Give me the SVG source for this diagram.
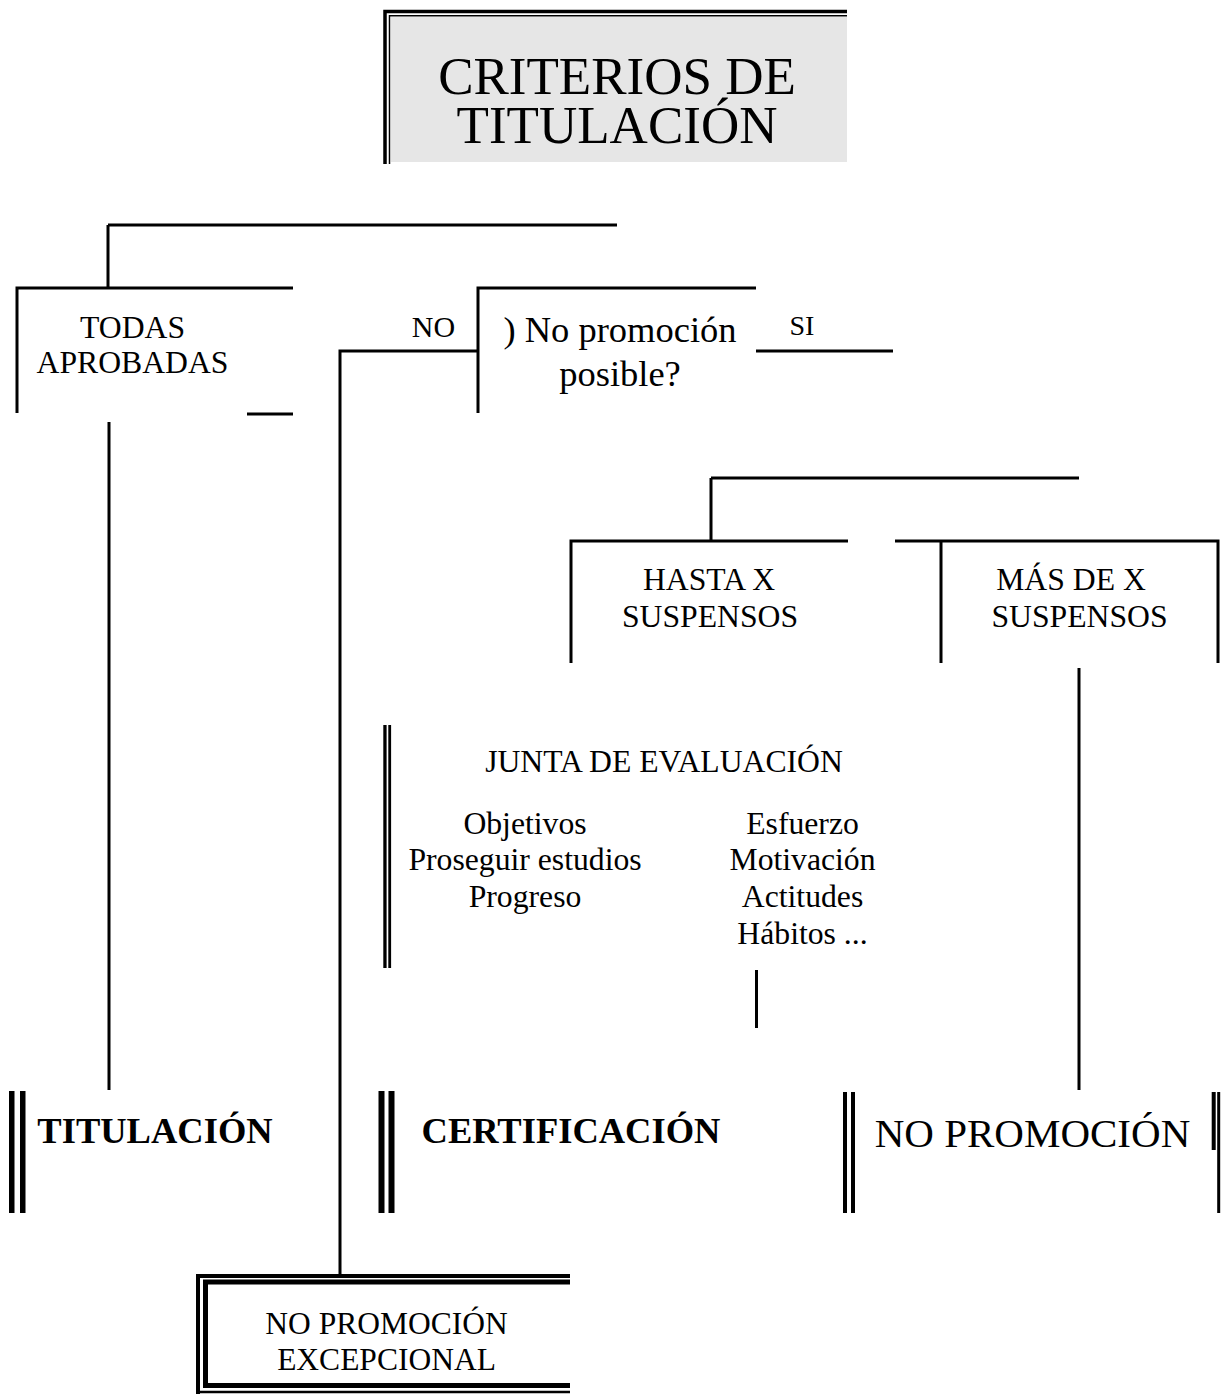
<svg xmlns="http://www.w3.org/2000/svg" width="1226" height="1394" viewBox="0 0 1226 1394">
<style>
.t{font-family:"Liberation Serif","Times New Roman",serif;fill:#000;text-anchor:middle}
.m{font-size:31.7px}
.b{font-size:36.5px;font-weight:bold}
.ln{stroke:#000;stroke-width:3;fill:none}
.bar{fill:#000}
</style>
<rect width="1226" height="1394" fill="#fff"/>
<g id="title">
<rect x="391" y="17" width="456" height="145" fill="#e6e6e6"/>
<path d="M385,164 V11.5 H847" stroke="#000" stroke-width="3.5" fill="none"/>
<path d="M389.5,164 V15.7 H847" stroke="#000" stroke-width="1.5" fill="none"/>
<text class="t" x="617" y="94" font-size="53">CRITERIOS DE</text>
<text class="t" x="617" y="143" font-size="53">TITULACIÓN</text>
</g>
<g id="connectors" class="ln">
<path d="M108,225 H617 M108,225 V288"/>
<path d="M109,422 V1090"/>
<path d="M478,351 H340 V1274"/>
<path d="M756,351 H893"/>
<path d="M711,478 H1079 M711,478 V541"/>
<path d="M1079,668 V1090"/>
<path d="M756.5,970 V1028"/>
</g>
<g id="todas" class="ln">
<path d="M293,288 H17 V413"/>
<path d="M247,414 H293"/>
<text class="t m" x="132.5" y="338" stroke="none">TODAS</text>
<text class="t m" x="132.5" y="373" stroke="none">APROBADAS</text>
</g>
<g id="no-label">
<text class="t" x="433.5" y="337" font-size="30">NO</text>
</g>
<g id="si-label">
<text class="t" x="802" y="335" font-size="28">SI</text>
</g>
<g id="no-promocion-posible" class="ln">
<path d="M756,288 H478 V413"/>
<text class="t" x="620" y="342" font-size="36.5" stroke="none">) No promoción</text>
<text class="t" x="620" y="386" font-size="36.5" stroke="none">posible?</text>
</g>
<g id="hasta" class="ln">
<path d="M848,541 H571 V663"/>
<text class="t m" x="709" y="590" stroke="none">HASTA X</text>
<text class="t m" x="710" y="627" stroke="none">SUSPENSOS</text>
</g>
<g id="mas" class="ln">
<path d="M895,541 H1218 V663 M941,541 V663"/>
<text class="t m" x="1071" y="590" stroke="none">MÁS DE X</text>
<text class="t m" x="1079.5" y="627" stroke="none">SUSPENSOS</text>
</g>
<g id="junta">
<rect class="bar" x="383.3" y="725" width="3.3" height="243"/>
<rect class="bar" x="388.3" y="725" width="2.8" height="243"/>
<text class="t m" x="664" y="772">JUNTA DE EVALUACIÓN</text>
<text class="t m" x="525" y="834">Objetivos</text>
<text class="t m" x="525" y="870">Proseguir estudios</text>
<text class="t m" x="525" y="907">Progreso</text>
<text class="t m" x="802.5" y="834">Esfuerzo</text>
<text class="t m" x="802.5" y="870">Motivación</text>
<text class="t m" x="802.5" y="907">Actitudes</text>
<text class="t m" x="802.5" y="944">Hábitos ...</text>
</g>
<g id="titulacion">
<rect class="bar" x="9" y="1091" width="5.5" height="122"/>
<rect class="bar" x="20" y="1091" width="5.5" height="122"/>
<text class="t b" x="155" y="1143">TITULACIÓN</text>
</g>
<g id="certificacion">
<rect class="bar" x="378.5" y="1091" width="6" height="122"/>
<rect class="bar" x="388.5" y="1091" width="6" height="122"/>
<text class="t b" x="571" y="1143">CERTIFICACIÓN</text>
</g>
<g id="no-promocion">
<rect class="bar" x="843" y="1092" width="4" height="121"/>
<rect class="bar" x="851" y="1092" width="4" height="121"/>
<rect class="bar" x="1211.7" y="1092" width="4" height="58"/>
<rect class="bar" x="1217.2" y="1092" width="3" height="121"/>
<text class="t" x="1032.5" y="1147" font-size="41">NO PROMOCIÓN</text>
</g>
<g id="no-promocion-excepcional">
<path d="M570,1276 H198 V1394" stroke="#000" stroke-width="4" fill="none"/>
<path d="M198,1392 H570" stroke="#000" stroke-width="2.5" fill="none"/>
<path d="M570,1282 H205.5 V1385.5 H570" stroke="#000" stroke-width="5" fill="none"/>
<text class="t" x="386.5" y="1334" font-size="31.5">NO PROMOCIÓN</text>
<text class="t" x="386.5" y="1370" font-size="31.5">EXCEPCIONAL</text>
</g>
</svg>
